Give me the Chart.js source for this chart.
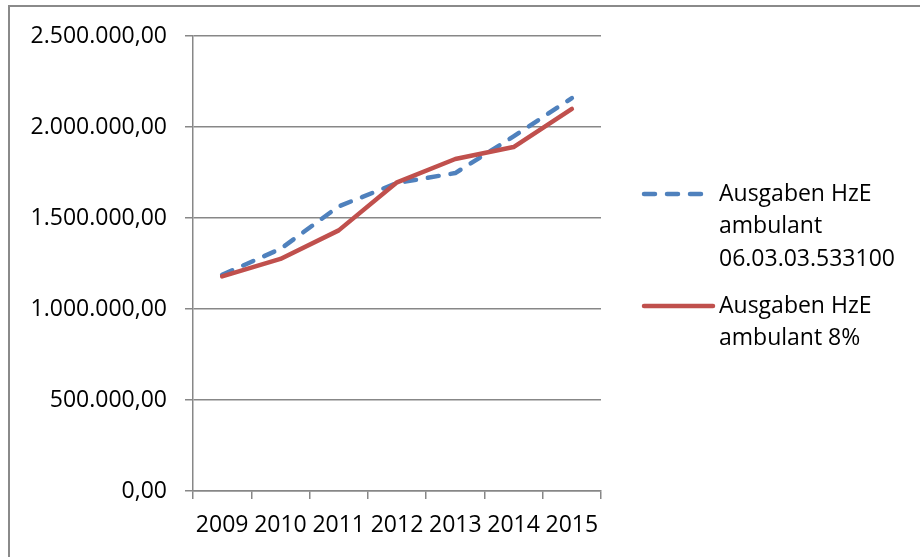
<!DOCTYPE html>
<html>
<head>
<meta charset="utf-8">
<script src="https://cdn.jsdelivr.net/npm/chart.js@4.4.1/dist/chart.umd.min.js"></script>
<style>
  html, body { margin: 0; padding: 0; background: #fff; overflow: hidden; }
  #wrap { width: 920px; height: 557px; position: relative; }
</style>
</head>
<body>
<div id="wrap"><canvas id="chart" width="920" height="557"></canvas></div>
<script>
// values
var years = ['2009', '2010', '2011', '2012', '2013', '2014', '2015'];
var ausgabenIst = [1188000, 1330000, 1564000, 1692000, 1747000, 1948000, 2159000];
var ausgaben8 = [1179000, 1275000, 1432000, 1696000, 1824000, 1890000, 2099000];
var legendIst = ['Ausgaben HzE', 'ambulant', '06.03.03.533100'];
var legend8 = ['Ausgaben HzE', 'ambulant 8%'];

var FONT = '"Open Sans", Lato, sans-serif';
var FSIZE = 23;
var GRID = '#878787';

function deFormat(v) {
  var parts = v.toFixed(2).split('.');
  var int = parts[0].replace(/\B(?=(\d{3})+(?!\d))/g, '.');
  return int + ',' + parts[1];
}

// outer frame + multi-line legend on the right
var framePlugin = {
  id: 'frame',
  beforeDraw: function (chart) {
    var ctx = chart.ctx;
    ctx.save();
    ctx.strokeStyle = '#8a8a8a';
    ctx.lineWidth = 2;
    ctx.strokeRect(9, 6, 1000, 1000);
    ctx.restore();
  },
  afterDraw: function (chart) {
    var ctx = chart.ctx;
    var entries = [
      { ds: chart.data.datasets[0], lines: legendIst, y: 194 },
      { ds: chart.data.datasets[1], lines: legend8, y: 306 }
    ];
    ctx.save();
    entries.forEach(function (e) {
      ctx.beginPath();
      ctx.strokeStyle = e.ds.borderColor;
      ctx.lineWidth = e.ds.borderWidth;
      ctx.lineCap = e.ds.borderCapStyle || 'round';
      ctx.setLineDash(e.ds.borderDash || []);
      ctx.moveTo(644, e.y);
      ctx.lineTo(e.ds.borderDash ? 706 : 713, e.y);
      ctx.stroke();
      ctx.setLineDash([]);
      ctx.fillStyle = '#000';
      ctx.font = FSIZE + 'px ' + FONT;
      ctx.textBaseline = 'middle';
      ctx.textAlign = 'left';
      e.lines.forEach(function (t, i) {
        ctx.fillText(t, 719, e.y + i * 32.5);
      });
    });
    ctx.restore();
  }
};

var ctx = document.getElementById('chart').getContext('2d');
new Chart(ctx, {
  type: 'line',
  data: {
    labels: years,
    datasets: [
      {
        label: legendIst.join(' '),
        data: ausgabenIst,
        borderColor: '#4F81BD',
        borderWidth: 4.5,
        borderDash: [11, 12],
        borderCapStyle: 'round',
        borderJoinStyle: 'round',
        pointRadius: 0,
        tension: 0,
        fill: false,
        order: 2
      },
      {
        label: legend8.join(' '),
        data: ausgaben8,
        borderColor: '#C0504D',
        borderWidth: 4.5,
        borderCapStyle: 'round',
        borderJoinStyle: 'round',
        pointRadius: 0,
        tension: 0,
        fill: false,
        order: 1
      }
    ]
  },
  options: {
    responsive: false,
    animation: false,
    devicePixelRatio: 1,
    layout: { padding: { left: 0, right: 319, top: 36, bottom: 0 } },
    plugins: {
      legend: { display: false },
      tooltip: { enabled: false }
    },
    scales: {
      x: {
        type: 'category',
        offset: true,
        afterFit: function (s) { s.height = 66; },
        grid: {
          offset: true,
          drawOnChartArea: false,
          drawTicks: true,
          tickLength: 8,
          color: GRID,
          lineWidth: 1.5
        },
        border: { display: true, color: GRID, width: 1.5 },
        ticks: {
          color: '#000',
          font: { family: FONT, size: FSIZE },
          padding: 13,
          maxRotation: 0,
          autoSkip: false
        }
      },
      y: {
        min: 0,
        max: 2500000,
        afterFit: function (s) { s.width = 193; },
        grid: {
          drawOnChartArea: true,
          drawTicks: true,
          tickLength: 8,
          color: GRID,
          lineWidth: 1.5
        },
        border: { display: true, color: GRID, width: 1.5 },
        ticks: {
          stepSize: 500000,
          color: '#000',
          font: { family: FONT, size: FSIZE },
          padding: 18,
          callback: function (v) { return deFormat(v); }
        }
      }
    }
  },
  plugins: [framePlugin]
});
</script>
</body>
</html>
